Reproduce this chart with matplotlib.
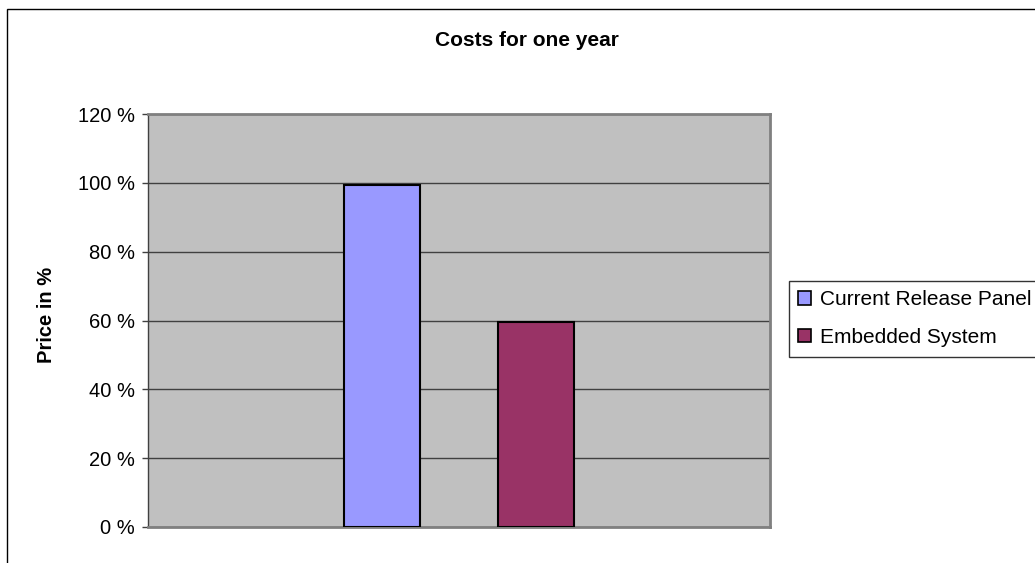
import numpy as np
import matplotlib
matplotlib.use('Agg')
import matplotlib.pyplot as plt
from matplotlib.patches import Rectangle
from matplotlib.ticker import FuncFormatter

series = ['Current Release Panel', 'Embedded System']
values = [99.5, 59.5]
colors = ['#9999FF', '#993366']
yticks = [0, 20, 40, 60, 80, 100, 120]

plt.rcParams['font.family'] = ['Liberation Sans', 'DejaVu Sans']

W, H = 1035, 563
fig = plt.figure(figsize=(W / 100.0, H / 100.0), dpi=100)

# outer chart border (runs off the right and bottom of the picture)
fig.patches.append(Rectangle((7.0 / W, -0.05), 1.1, 1 - 9.0 / H + 0.05,
                             transform=fig.transFigure, fill=False,
                             edgecolor='black', linewidth=1.0))

ax = fig.add_axes([148.0 / W, 36.0 / H, 622.0 / W, 413.0 / H])
ax.set_facecolor('#C0C0C0')

# one category, two series side by side
bar_w = 0.122
offsets = [-0.124, 0.124]
for off, val, col, name in zip(offsets, values, colors, series):
    ax.bar(off, val, width=bar_w, color=col, edgecolor='black',
           linewidth=1.5, label=name, zorder=3)

ax.set_xlim(-0.5, 0.5)
ax.set_ylim(0, 120)
ax.set_yticks(yticks)
ax.yaxis.set_major_formatter(FuncFormatter(lambda v, p: '%d %%' % v))
ax.set_xticks([])
ax.grid(axis='y', color='#404040', linewidth=1.0, zorder=1)
ax.tick_params(axis='y', length=4.5, width=1, color='#404040',
               labelsize=14.5, pad=5)

for side in ['top', 'right', 'bottom']:
    ax.spines[side].set_color('#808080')
    ax.spines[side].set_linewidth(2)
ax.spines['left'].set_color('#404040')
ax.spines['left'].set_linewidth(1)

fig.text(527.0 / W, 1 - 41.0 / H, 'Costs for one year', ha='center',
         va='center', fontsize=15, fontweight='bold')
fig.text(47.0 / W, 1 - 315.0 / H, 'Price in %', ha='center', va='center',
         rotation=90, fontsize=14.5, fontweight='bold')

# legend box runs off the right edge, like the reference
leg = fig.legend(loc='upper left', mode='expand',
                 bbox_to_anchor=(789.0 / W, 0, 1.2 - 789.0 / W, 1 - 281.0 / H),
                 fontsize=15, frameon=True, fancybox=False, handlelength=0.6,
                 handleheight=0.6, handletextpad=0.43, labelspacing=0.9,
                 borderpad=0.45, borderaxespad=0)
leg.get_frame().set_edgecolor('black')
leg.get_frame().set_linewidth(1.0)
for h in leg.legend_handles:
    h.set_linewidth(1.2)

fig.savefig('out.png', dpi=100)
